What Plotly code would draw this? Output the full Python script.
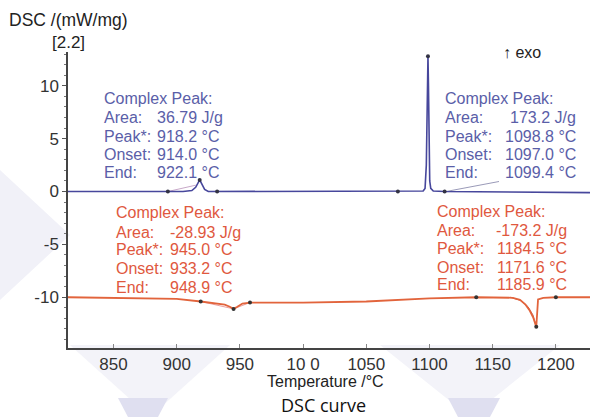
import plotly.graph_objects as go

# ---- data ----
blue_T = [814, 880, 893, 905, 912, 915, 918.2, 920, 922.1, 925, 932, 1000, 1075, 1090, 1095,
          1096.5, 1097.5, 1098.2, 1098.8, 1099.2, 1099.6, 1100.2, 1101, 1103, 1112, 1150, 1200, 1227]
blue_V = [0.0, 0.0, 0.0, 0.0, 0.1, 0.4, 1.1, 0.7, 0.2, 0.0, 0.0, 0.0, 0.0, 0.0, 0.05,
          0.3, 2.5, 8.0, 12.8, 10.0, 4.0, 1.0, 0.3, 0.05, 0.0, -0.05, -0.1, -0.1]

red_T = [814, 850, 900, 919, 930, 938, 942, 945, 948, 952, 958, 1000, 1050, 1080, 1100, 1137,
         1160, 1166, 1171.6, 1176, 1179, 1182, 1184.5, 1185.2, 1185.9, 1190, 1200, 1227]
red_V = [-10.0, -10.05, -10.15, -10.4, -10.55, -10.7, -10.9, -11.1, -10.9, -10.6, -10.5, -10.5,
         -10.4, -10.25, -10.1, -10.0, -10.0, -10.05, -10.25, -10.7, -11.2, -11.9, -12.8, -11.5,
         -10.2, -10.05, -10.0, -10.0]

blue_mark_T = [893, 918.2, 932, 1075, 1098.8, 1112]
blue_mark_V = [0.0, 1.1, 0.0, 0.0, 12.8, 0.0]
red_mark_T = [919, 945, 958, 1137, 1184.5, 1200]
red_mark_V = [-10.4, -11.1, -10.5, -10.0, -12.8, -10.0]

# thin evaluation / pointer lines
blue_guide1_T = [893, 915]
blue_guide1_V = [0.0, 0.6]
blue_guide2_T = [1113, 1155]
blue_guide2_V = [0.0, 0.95]
red_guide1_T = [919, 945, 958]
red_guide1_V = [-10.4, -11.1, -10.5]
red_guide2_T = [1164, 1172, 1178, 1182, 1184.5]
red_guide2_V = [-10.0, -10.3, -10.9, -11.7, -12.8]

x_ticks = [850, 900, 950, 1000, 1050, 1100, 1150, 1200]
x_tick_text = ["850", "900", "950", "10 0", "1050", "1100", "1150", "1200"]
y_ticks = [-10, -5, 0, 5, 10]
y_tick_text = ["-10", "-5", "0", "5", "10"]

block_labels = ["Complex Peak:", "Area:", "Peak*:", "Onset:", "End:"]
blue_left_vals = ["", "36.79 J/g", "918.2 °C", "914.0 °C", "922.1 °C"]
blue_right_vals = ["", "173.2 J/g", "1098.8 °C", "1097.0 °C", "1099.4 °C"]
red_left_vals = ["", "-28.93 J/g", "945.0 °C", "933.2 °C", "948.9 °C"]
red_right_vals = ["", "-173.2 J/g", "1184.5 °C", "1171.6 °C", "1185.9 °C"]

BLUE_LINE = "#47479c"
RED_LINE = "#e2643c"
BLUE_TXT = "#5a5ea8"
RED_TXT = "#e0583e"
FONT = "Liberation Sans, Arial, sans-serif"

W, H = 590, 417
L, R, T, B = 68, 0, 52, 69
PW, PH = W - L - R, H - T - B


def px(x):
    return (x - L) / PW


def py(y):
    return (H - B - y) / PH


fig = go.Figure()

for gx, gy, c in [(blue_guide1_T, blue_guide1_V, "#c8a8c8"), (blue_guide2_T, blue_guide2_V, "#9a9ab8"),
                  (red_guide1_T, red_guide1_V, "#eaa0a0"), (red_guide2_T, red_guide2_V, "#d06050")]:
    fig.add_trace(go.Scatter(x=gx, y=gy, mode="lines", line=dict(color=c, width=1),
                             hoverinfo="skip", showlegend=False))

fig.add_trace(go.Scatter(x=blue_T, y=blue_V, mode="lines", line=dict(color=BLUE_LINE, width=1.6),
                         showlegend=False))
fig.add_trace(go.Scatter(x=red_T, y=red_V, mode="lines", line=dict(color=RED_LINE, width=1.8),
                         showlegend=False))
fig.add_trace(go.Scatter(x=blue_mark_T, y=blue_mark_V, mode="markers",
                         marker=dict(color="#333344", size=4), showlegend=False))
fig.add_trace(go.Scatter(x=red_mark_T, y=red_mark_V, mode="markers",
                         marker=dict(color="#333333", size=4), showlegend=False))

ann = []


def block(labels, vals, lx, vx, ys, color, v_anchor="left"):
    for lab, v, yy in zip(labels, vals, ys):
        ann.append(dict(x=px(lx), y=py(yy), xref="paper", yref="paper", text=lab, showarrow=False,
                        xanchor="left", yanchor="middle", borderpad=0,
                        font=dict(family=FONT, size=16, color=color)))
        if v:
            ann.append(dict(x=px(vx), y=py(yy), xref="paper", yref="paper", text=v, showarrow=False,
                            xanchor=v_anchor, yanchor="middle", borderpad=0,
                            font=dict(family=FONT, size=16, color=color)))


block(block_labels, blue_left_vals, 103, 156, [98, 117, 136, 154, 172], BLUE_TXT)
block(block_labels, blue_right_vals, 444, 577, [98, 117, 136, 154, 172], BLUE_TXT, "right")
block(block_labels, red_left_vals, 115, 169, [213, 232, 250, 268, 287], RED_TXT)
block(block_labels, red_right_vals, 436, 568, [211, 230, 248, 267, 284], RED_TXT, "right")

ann += [
    dict(x=px(8), y=py(20), xref="paper", yref="paper", text="DSC /(mW/mg)", showarrow=False,
         xanchor="left", yanchor="middle", borderpad=0, font=dict(family=FONT, size=17.5, color="#222")),
    dict(x=px(68), y=py(42), xref="paper", yref="paper", text="[2.2]", showarrow=False,
         xanchor="center", yanchor="middle", borderpad=0, font=dict(family=FONT, size=17, color="#222")),
    dict(x=px(502), y=py(52), xref="paper", yref="paper", text="↑ exo", showarrow=False,
         xanchor="left", yanchor="middle", borderpad=0, font=dict(family=FONT, size=16, color="#222")),
    dict(x=px(325), y=py(381), xref="paper", yref="paper", text="Temperature /°C", showarrow=False,
         xanchor="center", yanchor="middle", borderpad=0, font=dict(family=FONT, size=16, color="#222")),
    dict(x=px(323), y=py(405), xref="paper", yref="paper", text="DSC curve", showarrow=False,
         xanchor="center", yanchor="middle", borderpad=0,
         font=dict(family="Open Sans, sans-serif", size=18, color="#111")),
]


def poly(pts, color):
    path = "M " + " L ".join(f"{px(a):.4f},{py(b):.4f}" for a, b in pts) + " Z"
    return dict(type="path", xref="paper", yref="paper", path=path, fillcolor=color,
                line=dict(width=0), layer="below")


shapes = [
    poly([(0, 170), (70, 235), (0, 300)], "#f1f1f8"),
    poly([(70, 345), (230, 345), (150, 417)], "#f3f3f9"),
    poly([(380, 345), (560, 345), (470, 417)], "#f3f3f9"),
    poly([(118, 398), (168, 398), (158, 417), (128, 417)], "#dfdff0"),
    poly([(448, 398), (500, 398), (490, 417), (458, 417)], "#dfdff0"),
]

fig.update_layout(
    width=W, height=H,
    margin=dict(l=L, r=R, t=T, b=B, autoexpand=False),
    paper_bgcolor="white", plot_bgcolor="rgba(0,0,0,0)",
    annotations=ann, shapes=shapes,
    xaxis=dict(range=[814, 1227], tickvals=x_ticks, ticktext=x_tick_text, showline=True,
               linecolor="#444", linewidth=1.5, ticks="inside", ticklen=4, tickcolor="#888",
               automargin=False,
               tickfont=dict(family=FONT, size=17, color="#333"), showgrid=False, zeroline=False),
    yaxis=dict(range=[-14.8, 13.2], tickvals=y_ticks, ticktext=y_tick_text, showline=True,
               linecolor="#444", linewidth=1.5, automargin=False,
               ticks="outside", ticklen=4, tickcolor="#555",
               minor=dict(ticks="outside", ticklen=2, dtick=1, tickcolor="#777"),
               tickfont=dict(family=FONT, size=17, color="#333"), showgrid=False, zeroline=False),
)

fig.write_html("out.html", config={"displayModeBar": False},
               post_script="document.body.style.margin='0';document.body.style.overflow='hidden';")
